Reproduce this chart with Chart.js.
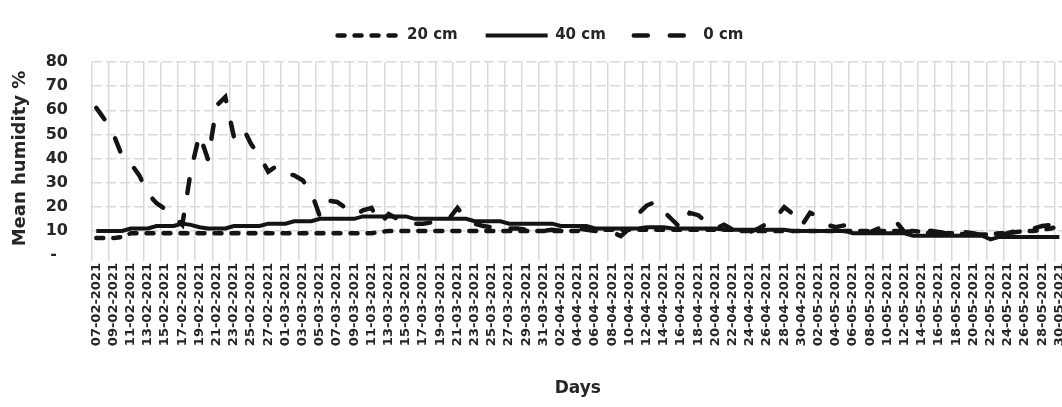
<!DOCTYPE html>
<html lang="en">
<head>
    <meta charset="UTF-8">
    <title>Mean humidity</title>
    <script src="https://cdn.jsdelivr.net/npm/chart.js"></script>
    <style>
        html, body { margin: 0; padding: 0; background: #fff; overflow: hidden; }
    </style>
</head>
<body>
<canvas id="humidityChart" width="1077" height="407"></canvas>

<script>
    // first and last day on the axis, one reading per day
    const firstDay = '2021-02-07';
    const lastDay = '2021-05-30';

    const seriesNames = ['20 cm', '40 cm', '0 cm'];

    const depth20 = [
        7, 7, 7, 7.5, 9, 9, 9, 9, 9, 9,
        9, 9, 9, 9, 9, 9, 9, 9, 9, 9,
        9, 9, 9, 9, 9, 9, 9, 9, 9, 9,
        9, 9, 9, 9.5, 10, 10, 10, 10, 10, 10,
        10, 10, 10, 10, 10, 10, 10, 10, 10, 10,
        10, 10, 10, 10, 10, 10, 10, 10.5, 10.5, 10.5,
        10.5, 10.5, 10.5, 10.5, 10.5, 10.5, 10.5, 10.5, 10.5, 10.5,
        10.5, 10.5, 10.5, 10.5, 10.5, 10, 10, 10, 10, 10,
        10, 10, 10, 10, 10, 10, 10, 10, 10, 10,
        10, 10, 10, 10, 10, 10, 9.5, 9, 9, 9,
        9, 8.5, 8.5, 8.5, 8.5, 9, 9, 9.5, 10, 10,
        10.5, 11, 12
    ];

    const depth40 = [
        10, 10, 10, 10, 11, 11, 11, 12, 12, 12,
        13, 12.5, 11.5, 11, 11, 11, 12, 12, 12, 12,
        13, 13, 13, 14, 14, 14, 15, 15, 15, 15,
        15, 16, 16, 16, 16, 16, 16, 15, 15, 15,
        15, 15, 15, 15, 14, 14, 14, 14, 13, 13,
        13, 13, 13, 13, 12, 12, 12, 12, 11, 11,
        11, 11, 11, 11, 11.5, 11.5, 11.5, 11, 11, 11,
        11, 11, 11, 10.5, 10.5, 10.5, 10.5, 10.5, 10.5, 10.5,
        10.5, 10, 10, 10, 10, 10, 10, 10, 9, 9,
        9, 9, 9, 9, 9, 8, 8, 8, 8, 8,
        8, 8, 8, 8, 6.5, 7.5, 7.5, 7.5, 7.5, 7.5,
        7.5, 7.5, 7.5
    ];

    const depth0 = [
        61, 56, 50, 41, 38, 33, 25.5, 21.5, 19, 16,
        12.5, 35, 50, 39.5, 62, 65.5, 49, 53, 46, 41,
        34.5, 37, 34, 33, 31, 26, 16, 22.5, 22, 19.5,
        16.5, 18.5, 19.5, 13, 17, 15, 13, 13, 13, 13.5,
        14.5, 15, 19.5, 15, 13, 12, 11.5, 10, 11, 11,
        10.5, 10, 10, 10.5, 10, 10, 11, 10.5, 10, 10,
        9.5, 7.8, 11, 17, 20.5, 22, 18, 14.5, 11, 17.5,
        16.5, 13.5, 11, 12.5, 10.5, 8, 9.5, 11, 13, 15.5,
        19.8, 17, 12, 17.5, 16, 12.5, 11.5, 12.3, 11, 10,
        9.5, 11, 12.5, 13.8, 9.5, 10, 9.5, 10, 9.5, 9,
        9, 9.5, 9, 8, 6.5, 8, 9, 10, 10.5, 11,
        12, 12.5, 12
    ];

    function buildDayLabels(from, to) {
        const labels = [];
        const d = new Date(from + 'T00:00:00Z');
        const end = new Date(to + 'T00:00:00Z');
        while (d <= end) {
            const dd = String(d.getUTCDate()).padStart(2, '0');
            const mm = String(d.getUTCMonth() + 1).padStart(2, '0');
            labels.push(dd + '-' + mm + '-' + d.getUTCFullYear());
            d.setUTCDate(d.getUTCDate() + 1);
        }
        return labels;
    }

    const days = buildDayLabels(firstDay, lastDay);

    const fontFamily = '"DejaVu Sans", "Liberation Sans", sans-serif';
    const textColor = '#262626';
    const gridColor = '#d9d9d9';
    const lineColor = '#141414';

    // legend sits near the top, plot starts lower down
    const legendGap = {
        id: 'legendGap',
        beforeInit(chart) {
            const origFit = chart.legend.fit;
            chart.legend.fit = function () {
                origFit.call(this);
                this.height = 62;
            };
        }
    };

    const ctx = document.getElementById('humidityChart').getContext('2d');

    new Chart(ctx, {
        type: 'line',
        data: {
            labels: days,
            datasets: [
                {
                    label: seriesNames[0],
                    data: depth20,
                    borderColor: lineColor,
                    backgroundColor: lineColor,
                    borderWidth: 4.5,
                    borderDash: [7, 10],
                    borderCapStyle: 'round',
                    pointRadius: 0,
                    tension: 0
                },
                {
                    label: seriesNames[1],
                    data: depth40,
                    borderColor: lineColor,
                    backgroundColor: lineColor,
                    borderWidth: 4,
                    pointRadius: 0,
                    tension: 0
                },
                {
                    label: seriesNames[2],
                    data: depth0,
                    borderColor: lineColor,
                    backgroundColor: lineColor,
                    borderWidth: 4.5,
                    borderDash: [14, 22],
                    borderCapStyle: 'round',
                    pointRadius: 0,
                    tension: 0
                }
            ]
        },
        options: {
            responsive: false,
            animation: false,
            layout: { padding: { left: 4, right: 0, top: 0, bottom: 8 } },
            plugins: {
                tooltip: { enabled: false },
                legend: {
                    position: 'top',
                    labels: {
                        usePointStyle: true,
                        pointStyle: 'line',
                        pointStyleWidth: 62,
                        padding: 28,
                        color: textColor,
                        font: { family: fontFamily, size: 15, weight: 'bold' },
                        generateLabels: chart => {
                            const items = Chart.defaults.plugins.legend.labels.generateLabels(chart);
                            items.forEach(item => {
                                const ds = chart.data.datasets[item.datasetIndex];
                                item.lineDash = ds.borderDash || [];
                                item.lineCap = ds.borderCapStyle || 'butt';
                                item.lineWidth = ds.borderWidth;
                                item.strokeStyle = ds.borderColor;
                            });
                            return items;
                        }
                    }
                }
            },
            scales: {
                x: {
                    offset: true,
                    grid: {
                        offset: true,
                        color: c => (c.index % 2 === 0 ? gridColor : 'rgba(0,0,0,0)'),
                        lineWidth: 1.5,
                        tickLength: 6
                    },
                    border: { display: false },
                    ticks: {
                        autoSkip: false,
                        minRotation: 90,
                        maxRotation: 90,
                        padding: 2,
                        color: textColor,
                        font: { family: fontFamily, size: 13, weight: 'bold' },
                        callback: function (value, index) {
                            return index % 2 === 0 ? this.getLabelForValue(value) : '';
                        }
                    },
                    title: {
                        display: true,
                        text: 'Days',
                        color: textColor,
                        padding: { top: 4, bottom: 0 },
                        font: { family: fontFamily, size: 17, weight: 'bold' }
                    },
                    afterFit: scale => { scale.height = 144; }
                },
                y: {
                    min: 0,
                    max: 80,
                    ticks: {
                        stepSize: 10,
                        padding: 24,
                        color: textColor,
                        font: { family: fontFamily, size: 16, weight: 'bold' },
                        callback: v => (v === 0 ? '-\u00a0\u00a0' : v)
                    },
                    grid: {
                        color: c => (c.tick && c.tick.value === 0 ? 'rgba(0,0,0,0)' : gridColor),
                        lineWidth: 1.5,
                        drawTicks: false
                    },
                    border: { display: false, dash: [10, 4] },
                    title: {
                        display: true,
                        text: 'Mean humidity %',
                        color: textColor,
                        padding: { top: 6, bottom: 0 },
                        font: { family: fontFamily, size: 18, weight: 'bold' }
                    },
                    afterFit: scale => { scale.width = 88; }
                }
            }
        },
        plugins: [legendGap]
    });
</script>
</body>
</html>
